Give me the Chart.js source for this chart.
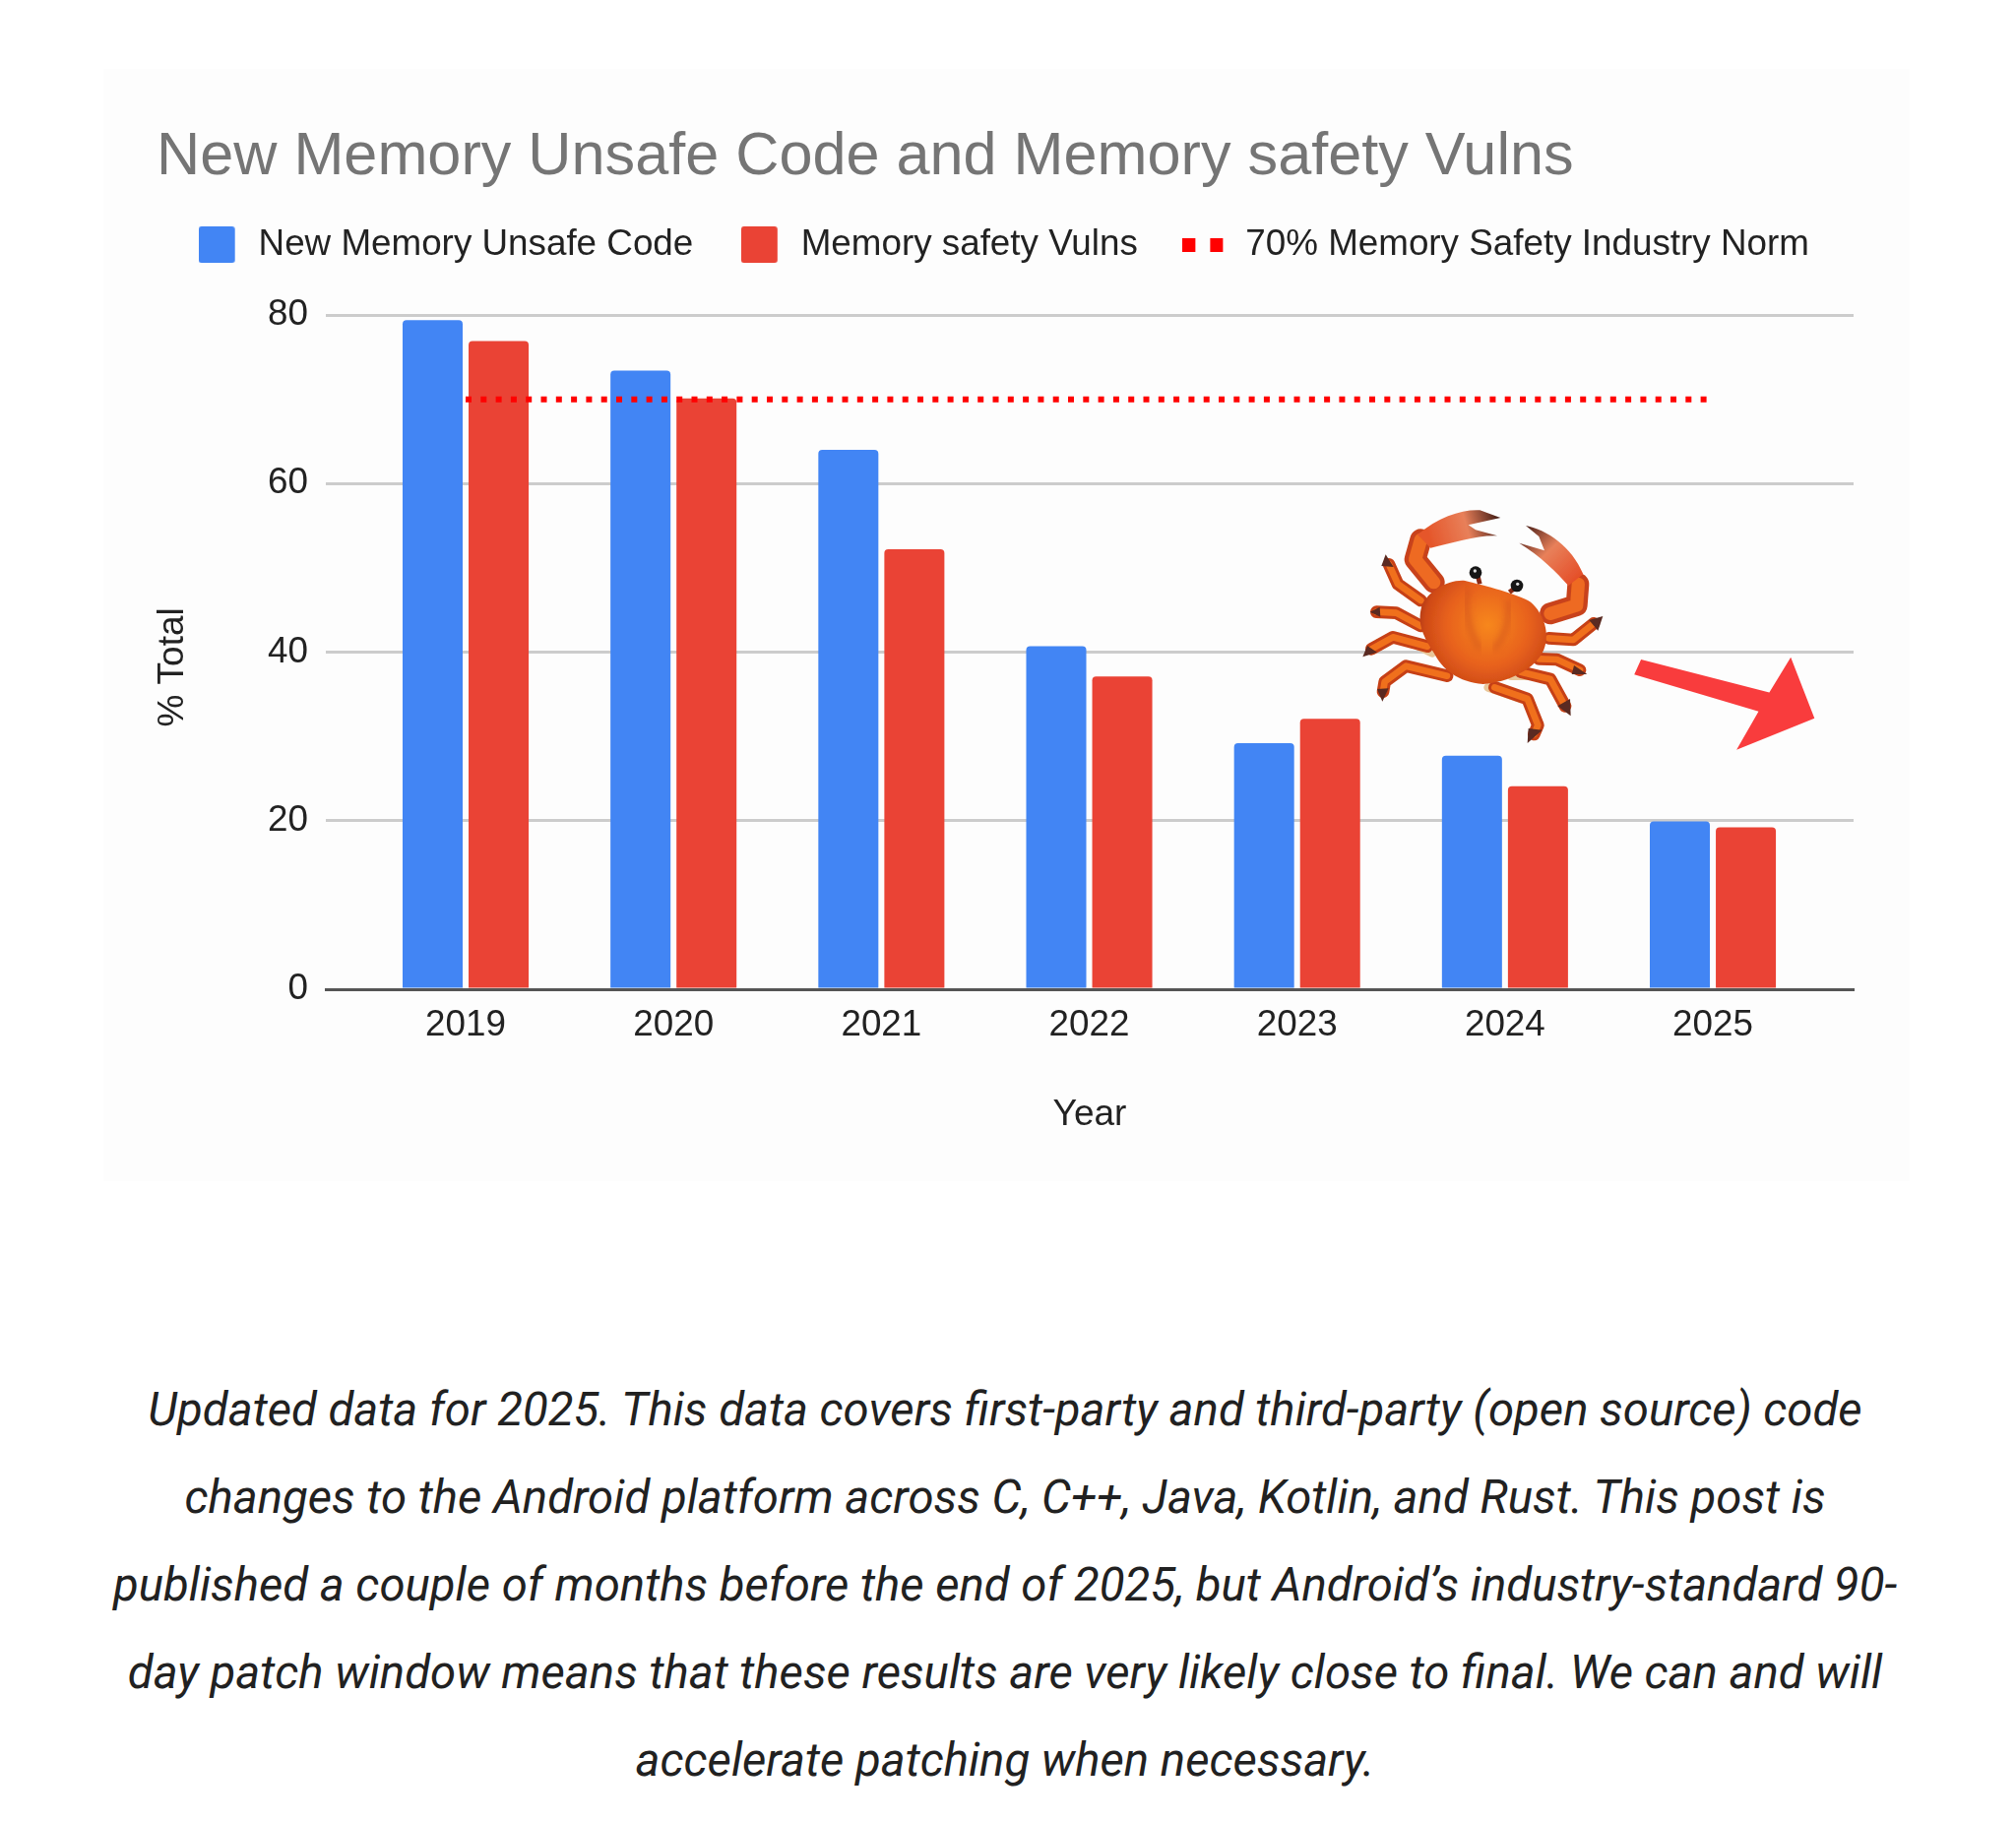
<!DOCTYPE html>
<html>
<head>
<meta charset="utf-8">
<title>New Memory Unsafe Code and Memory safety Vulns</title>
<script src="https://cdn.jsdelivr.net/npm/chart.js@4"></script>
<style>
body { margin: 0; background: #fff; width: 2048px; height: 1850px; position: relative; overflow: hidden; }
#panel { position: absolute; left: 105px; top: 70px; width: 1835px; height: 1130px; background: #fdfdfd; }
#myChart { position: absolute; left: 0; top: 0; }
#overlay { position: absolute; left: 1100px; top: 450px; }
#crab { position: absolute; left: 1375px; top: 510px; }
#caption { position: absolute; left: 0; top: 1388px; width: 2042px; text-align: center; font: italic 47.3px/89px Roboto, sans-serif; color: #212121; white-space: nowrap; }
.under { fill: none; stroke: #e9c79a; stroke-width: 26; stroke-linecap: round; }
.tip { fill: #5a2a20; }
</style>
</head>
<body>
<div id="panel"></div>
<canvas id="myChart" width="2048" height="1200"></canvas>

<!-- crab and arrow stickers pasted on the chart -->
<svg id="crab" width="260" height="255" viewBox="0 0 780 765">
  <defs>
    <radialGradient id="shell" gradientUnits="userSpaceOnUse" cx="410" cy="375" r="225">
      <stop offset="0" stop-color="#f7871e"/>
      <stop offset="0.55" stop-color="#e8621d"/>
      <stop offset="0.85" stop-color="#cf4a17"/>
      <stop offset="1" stop-color="#a8340f"/>
    </radialGradient>
    <linearGradient id="clawL" gradientUnits="userSpaceOnUse" x1="230" y1="110" x2="440" y2="50">
      <stop offset="0" stop-color="#e5562a"/>
      <stop offset="0.55" stop-color="#e8805a"/>
      <stop offset="1" stop-color="#4a2018"/>
    </linearGradient>
    <linearGradient id="clawR" gradientUnits="userSpaceOnUse" x1="680" y1="230" x2="530" y2="80">
      <stop offset="0" stop-color="#e5502a"/>
      <stop offset="0.55" stop-color="#e8805a"/>
      <stop offset="1" stop-color="#5a2a20"/>
    </linearGradient>
    <filter id="soft"><feGaussianBlur stdDeviation="1.5"/></filter>
    <filter id="softer"><feGaussianBlur stdDeviation="9"/></filter>
    <g id="legs" fill="none" stroke-linecap="round" stroke-linejoin="round">
      <path d="M108 190 L135 250 L205 300"/>
      <path d="M70 335 L130 338 L205 378"/>
      <path d="M55 448 L120 412 L225 440"/>
      <path d="M90 578 L95 548 L160 500 L285 530"/>
      <path d="M732 370 L670 420 L595 415"/>
      <path d="M690 512 L620 480 L565 478"/>
      <path d="M645 622 L600 540 L510 518"/>
      <path d="M550 708 L562 680 L530 600 L430 565"/>
    </g>
    <g id="arms" fill="none" stroke-linecap="round" stroke-linejoin="round">
      <path d="M245 245 L188 175 L205 115"/>
      <path d="M600 340 L680 315 L685 250"/>
    </g>
  </defs>
  <g filter="url(#soft)">
    <path class="under" d="M170 505 L290 530"/>
    <path class="under" d="M410 565 L510 600"/>
    <path class="under" d="M480 530 L560 530"/>
    <path class="under" d="M160 420 L240 460"/>
    <use href="#legs" stroke="#c63f14" stroke-width="38"/>
    <use href="#legs" stroke="#f0701f" stroke-width="20"/>
    <path class="tip" d="M98 160 L85 195 L122 198 Z"/>
    <path class="tip" d="M50 335 L80 320 L82 350 Z"/>
    <path class="tip" d="M28 472 L42 438 L72 458 Z"/>
    <path class="tip" d="M88 608 L72 570 L107 568 Z"/>
    <path class="tip" d="M760 348 L718 360 L745 392 Z"/>
    <path class="tip" d="M712 525 L672 498 L665 525 Z"/>
    <path class="tip" d="M662 652 L622 622 L660 600 Z"/>
    <path class="tip" d="M530 735 L533 690 L575 695 Z"/>
    <use href="#arms" stroke="#c8431a" stroke-width="66"/>
    <use href="#arms" stroke="#ee6a20" stroke-width="40"/>
    <path fill="url(#clawL)" d="M195 100 C260 45 330 22 385 25 L448 48 L350 70 L372 85 L438 103 C380 100 300 125 235 140 Z"/>
    <path fill="url(#clawR)" d="M525 72 C590 85 665 135 700 220 L655 255 C620 215 570 165 505 125 L582 148 L565 105 Z"/>
    <path d="M385 250 L378 222" stroke="#8a2c14" stroke-width="14" fill="none"/>
    <path d="M475 275 L498 258" stroke="#8a2c14" stroke-width="14" fill="none"/>
    <circle cx="372" cy="215" r="19" fill="#151515"/>
    <circle cx="498" cy="255" r="19" fill="#151515"/>
    <circle cx="370" cy="210" r="5" fill="#ddd"/>
    <circle cx="500" cy="250" r="5" fill="#ddd"/>
    <path fill="url(#shell)" d="M205 330 C215 275 290 235 340 240 C400 255 500 280 540 305 C580 340 600 400 580 450 C555 510 470 550 395 555 C320 550 270 510 245 460 C220 420 195 380 205 330 Z"/>
    <path d="M350 262 C335 320 350 390 385 450" stroke="#c8481a" stroke-width="14" fill="none" opacity="0.55" filter="url(#softer)"/>
    <path d="M470 300 C480 350 465 400 430 450" stroke="#c8481a" stroke-width="14" fill="none" opacity="0.55" filter="url(#softer)"/>
  </g>
</svg>
<svg id="overlay" width="900" height="750" viewBox="0 0 1568 1568" preserveAspectRatio="none">
  <polygon fill="#f93c3d" points="988,460 1215,530 1253,455 1295,585 1157,652 1196,570 976,492"/>
</svg>

<div id="caption">
  <div>Updated data for 2025. This data covers first-party and third-party (open source) code</div>
  <div>changes to the Android platform across C, C++, Java, Kotlin, and Rust. This post is</div>
  <div>published a couple of months before the end of 2025, but Android’s industry-standard 90-</div>
  <div>day patch window means that these results are very likely close to final. We can and will</div>
  <div>accelerate patching when necessary.</div>
</div>

<script>
// values
var years = [2019, 2020, 2021, 2022, 2023, 2024, 2025];
var unsafeCode = [79.4, 73.4, 64.0, 40.7, 29.2, 27.7, 19.9];
var safetyVulns = [76.9, 70.1, 52.2, 37.1, 32.1, 24.1, 19.2];
var industryNorm = [70, 70, 70, 70, 70, 70, 70];
var yTicks = [0, 20, 40, 60, 80];

var BLUE = '#4285f4', RED = '#ea4335', DOT_RED = '#ff0000';
var SANS = '"Liberation Sans", Arial, sans-serif';

function points(values) {
  return values.map(function (v, i) { return { x: years[i], y: v }; });
}

// legend swatches, as small canvases so the legend can hold them.
// the canvas is wider than the mark: the legend centres it, this moves the mark left
function swatch(color) {
  var c = document.createElement('canvas');
  c.width = 45; c.height = 37;
  var g = c.getContext('2d');
  g.fillStyle = color;
  g.beginPath();
  g.roundRect(0, 0, 37, 37, 3);
  g.fill();
  return c;
}
function dots(color) {
  var c = document.createElement('canvas');
  c.width = 51; c.height = 14;
  var g = c.getContext('2d');
  g.fillStyle = color;
  g.fillRect(0, 0, 13, 14);
  g.fillRect(28, 0, 13, 14);
  return c;
}
var legendMarks = [swatch(BLUE), swatch(RED), dots(DOT_RED)];

// one row only, and push the plot down under the legend
var legendGap = {
  id: 'legendGap',
  beforeInit: function (chart) {
    var legend = chart.legend;
    var fit = legend.fit, draw = legend.draw;
    legend.fit = function () {
      this.maxWidth = 2048;
      fit.call(this);
      this.height += 43;
    };
    legend.draw = function () {
      this.left -= 20; this.right += 20;
      draw.call(this);
      this.left += 20; this.right -= 20;
    };
  }
};

var ctx = document.getElementById('myChart').getContext('2d');
var myChart = new Chart(ctx, {
  type: 'bar',
  data: {
    datasets: [
      { label: 'New Memory Unsafe Code', data: points(unsafeCode), backgroundColor: BLUE, borderRadius: { topLeft: 4, topRight: 4 }, categoryPercentage: 0.635, barPercentage: 0.91 },
      { label: 'Memory safety Vulns', data: points(safetyVulns), backgroundColor: RED, borderRadius: { topLeft: 4, topRight: 4 }, categoryPercentage: 0.635, barPercentage: 0.91 },
      { type: 'line', label: '70% Memory Safety Industry Norm', data: points(industryNorm), borderColor: DOT_RED, borderWidth: 6, borderDash: [6, 9.3], pointRadius: 0, fill: false, order: -1 }
    ]
  },
  plugins: [legendGap],
  options: {
    responsive: false,
    animation: false,
    devicePixelRatio: 1,
    layout: { padding: { left: 159, right: 165, top: 0, bottom: 45 } },
    plugins: {
      title: {
        display: true,
        text: 'New Memory Unsafe Code and Memory safety Vulns',
        align: 'start',
        color: '#757575',
        font: { family: SANS, size: 61.2, weight: 'normal', lineHeight: 1 },
        padding: { top: 130, bottom: -12 }
      },
      legend: {
        display: true,
        position: 'top',
        align: 'center',
        labels: {
          usePointStyle: true,
          pointStyleWidth: 40,
          padding: 51,
          color: '#222222',
          font: { family: SANS, size: 36.8 },
          generateLabels: function (chart) {
            return chart.data.datasets.map(function (ds, i) {
              return { text: ds.label, datasetIndex: i, pointStyle: legendMarks[i], fontColor: '#222222', lineWidth: 0, hidden: false };
            });
          }
        }
      },
      tooltip: { enabled: false }
    },
    scales: {
      x: {
        type: 'linear',
        offset: false,
        min: 2018.3275,
        max: 2025.677,
        grid: { display: false, offset: false, drawTicks: false },
        border: { display: true, color: '#555555', width: 3, z: 1 },
        ticks: {
          stepSize: 1,
          includeBounds: false,
          autoSkip: false,
          maxRotation: 0,
          padding: 15,
          color: '#222222',
          font: { family: SANS, size: 36.8 },
          callback: function (v) { return String(v); }
        },
        title: { display: true, text: 'Year', color: '#222222', font: { family: SANS, size: 37 }, padding: 0 },
        afterFit: function (scale) { scale.height = 150; }
      },
      y: {
        min: 0,
        max: 80,
        afterBuildTicks: function (scale) {
          scale.ticks = yTicks.map(function (v) { return { value: v }; });
        },
        grid: { color: '#cccccc', lineWidth: 3, drawTicks: false },
        border: { display: false },
        ticks: {
          padding: 18,
          color: '#222222',
          font: { family: SANS, size: 36.8 }
        },
        // trailing spaces move the label down, it sits below the plot centre in the original
        title: { display: true, text: '% Total   ', color: '#222222', font: { family: SANS, size: 37 }, padding: { top: -5, bottom: 0 } },
        afterFit: function (scale) { scale.width = 172; }
      }
    }
  }
});
</script>
</body>
</html>
